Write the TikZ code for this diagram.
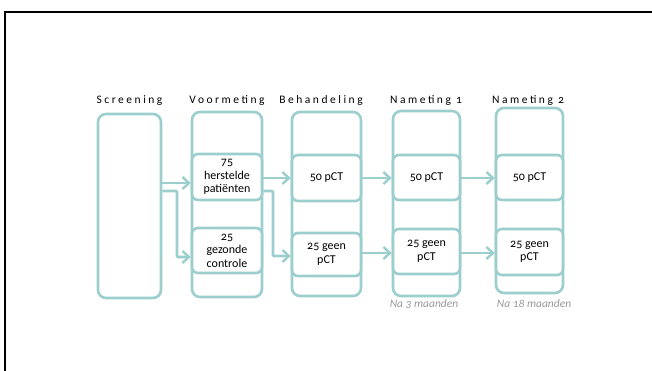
\documentclass[tikz,border=0pt]{standalone}
\usepackage{fontspec}
\setmainfont{Carlito}[Numbers=OldStyle]
\usetikzlibrary{arrows.meta}
\definecolor{teal1}{HTML}{9BCECC}
\definecolor{capgray}{HTML}{999999}
\tikzset{
  outerbox/.style={draw=teal1,line width=2.6pt,rounded corners=8pt,fill=white,minimum width=#1,inner sep=0pt},
  innerbox/.style={draw=teal1,line width=2.6pt,rounded corners=6pt,fill=white,align=center,font=\fontsize{12}{13.5}\selectfont,inner sep=0pt},
  ttl/.style={font=\fontsize{11.5}{13}\selectfont\addfontfeature{LetterSpace=22},anchor=base},
  arr/.style={draw=teal1,line width=2.6pt,-{Straight Barb[length=6.5pt,width=12pt,line width=2.4pt]}},
  captxt/.style={font=\fontsize{11.5}{13}\selectfont\itshape,text=capgray}
}
\begin{document}
\begin{tikzpicture}[x=1pt,y=-1pt]
\useasboundingbox (0,0) rectangle (652,371);
\draw[line width=2.4pt,black] (5.2,380) -- (5.2,12.2) -- (660,12.2);
% titles
\node[ttl] (t1) at (129.5,104) {Screening};
\node[ttl] (t2) at (227,104) {Voormeting};
\node[ttl] (t3) at (321,104) {Behandeling};
\node[ttl] (t4) at (426,104) {Nameting 1};
\node[ttl] (t5) at (528,104) {Nameting 2};
% outer boxes
\node[outerbox=63pt,minimum height=184pt] (S) at (129.5,206) {};
\node[outerbox=70pt,minimum height=185pt] (V) at (227,204.5) {};
\node[outerbox=69pt,minimum height=184pt] (B) at (326.5,204) {};
\node[outerbox=67pt,minimum height=185pt] (N1) at (426.5,203.5) {};
\node[outerbox=67pt,minimum height=185pt] (N2) at (529.5,200.5) {};
% inner boxes
\node[innerbox,minimum width=70pt,minimum height=46pt] (Vt) at (227,177) {75\\herstelde\\patiënten};
\node[innerbox,minimum width=70pt,minimum height=45pt] (Vb) at (227,250.5) {25\\gezonde\\controle};
\node[innerbox,minimum width=69pt,minimum height=46pt] (Bt) at (326.5,178) {50 pCT};
\node[innerbox,minimum width=69pt,minimum height=43pt] (Bb) at (326.5,254.5) {25 geen\\pCT};
\node[innerbox,minimum width=67pt,minimum height=45pt] (N1t) at (426.5,177.5) {50 pCT};
\node[innerbox,minimum width=67pt,minimum height=45pt] (N1b) at (426.5,251.5) {25 geen\\pCT};
\node[innerbox,minimum width=67pt,minimum height=45pt] (N2t) at (529.5,177.5) {50 pCT};
\node[innerbox,minimum width=67pt,minimum height=46pt] (N2b) at (529.5,252) {25 geen\\pCT};
% captions
\node[captxt] (c1) at (424,304) {Na 3 maanden};
\node[captxt] (c2) at (534,304) {Na 18 maanden};
% arrows
\draw[arr] (S.east |- 0,183) -- (Vt.west |- 0,183);
\draw[arr,rounded corners=1pt] (S.east |- 0,191) -| (177,257) -- (Vb.west |- 0,257);
\draw[arr] (Vt.east |- 0,178) -- (Bt.west |- 0,178);
\draw[arr,rounded corners=1pt] (Vt.east |- 0,191) -| (273,256) -- (Bb.west |- 0,256);
\draw[arr] (Bt.east |- 0,178) -- (N1t.west |- 0,178);
\draw[arr] (Bb.east |- 0,253) -- (N1b.west |- 0,253);
\draw[arr] (N1t.east |- 0,178) -- (N2t.west |- 0,178);
\draw[arr] (N1b.east |- 0,253) -- (N2b.west |- 0,253);
\end{tikzpicture}
\end{document}
